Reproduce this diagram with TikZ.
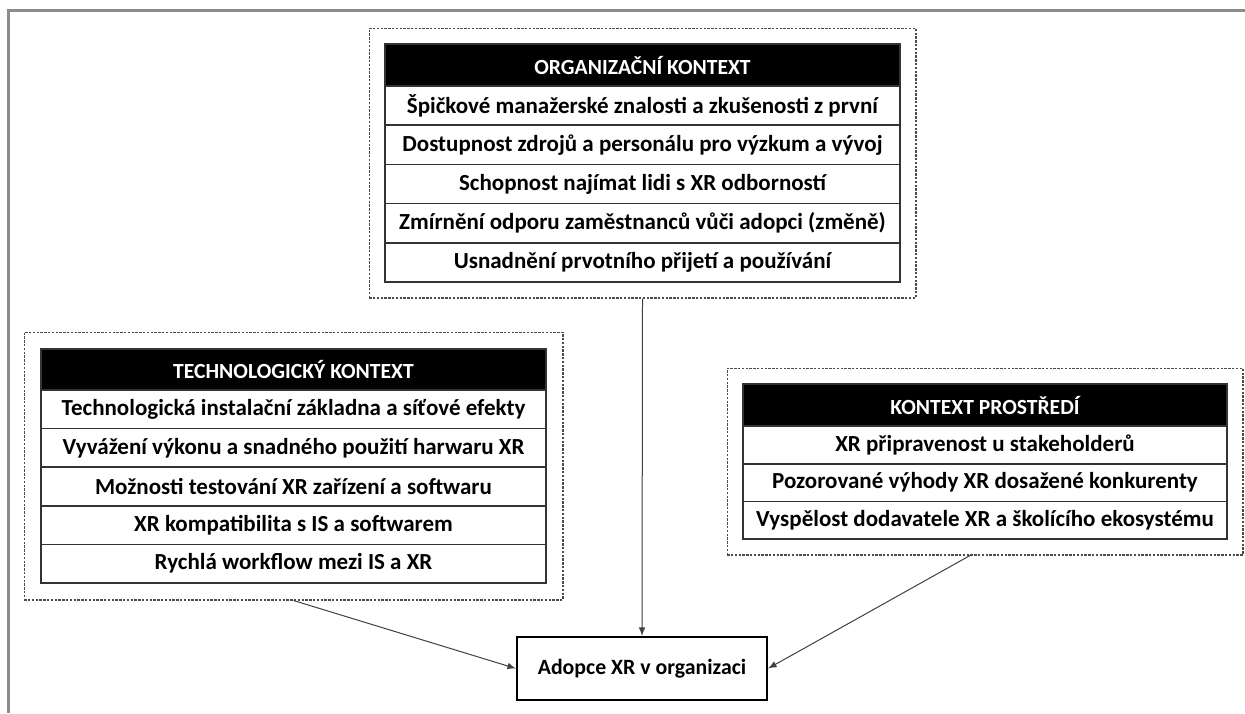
\documentclass[tikz,border=0pt]{standalone}
\usepackage{fontspec}
\setmainfont{Carlito}
\usepackage{tikz}
\usetikzlibrary{arrows,positioning,fit,calc}

\begin{document}
\begin{tikzpicture}[x=0.5pt,y=-0.5pt,
  hdr/.style={rectangle,fill=black,draw=black!80,line width=0.8pt,text=white,font=\fontsize{10.8}{12}\selectfont\bfseries,inner sep=0pt},
  row/.style={rectangle,draw=black!80,line width=0.8pt,font=\fontsize{11.5}{13}\selectfont\bfseries,inner sep=0pt},
  grp/.style={rectangle,draw=black!70,dash pattern=on 1.2pt off 0.7pt,line width=0.7pt,inner sep=7.5pt},
  res/.style={rectangle,draw=black,line width=1pt,font=\fontsize{10.9}{12}\selectfont\bfseries,minimum width=125pt,minimum height=31.5pt},
  link/.style={-latex,black!75,line width=0.5pt}]
\useasboundingbox (0,0) rectangle (1245,713);
\draw[black!45,line width=1.5pt] (8,713) -- (8,10) -- (1245,10);

% organizacni kontext
\node[hdr,minimum width=257.5pt,minimum height=21pt] (o0) at (642.5,65) {ORGANIZAČNÍ KONTEXT};
\node[row,minimum width=257.5pt,minimum height=19.6pt] (o1) at (642.5,105.6) {Špičkové manažerské znalosti a zkušenosti z první};
\node[row,minimum width=257.5pt,minimum height=19.6pt] (o2) at (642.5,144.8) {Dostupnost zdrojů a personálu pro výzkum a vývoj};
\node[row,minimum width=257.5pt,minimum height=19.6pt] (o3) at (642.5,184) {Schopnost najímat lidi s XR odborností};
\node[row,minimum width=257.5pt,minimum height=19.6pt] (o4) at (642.5,223.2) {Zmírnění odporu zaměstnanců vůči adopci (změně)};
\node[row,minimum width=257.5pt,minimum height=19.6pt] (o5) at (642.5,262.4) {Usnadnění prvotního přijetí a používání};
\node[grp,fit=(o0)(o5)] (orgbox) {};

% technologicky kontext
\node[hdr,minimum width=252.5pt,minimum height=20.5pt] (t0) at (293.5,369.5) {TECHNOLOGICKÝ KONTEXT};
\node[row,minimum width=252.5pt,minimum height=19.3pt] (t1) at (293.5,409.3) {Technologická instalační základna a síťové efekty};
\node[row,minimum width=252.5pt,minimum height=19.3pt] (t2) at (293.5,447.9) {Vyvážení výkonu a snadného použití harwaru XR};
\node[row,minimum width=252.5pt,minimum height=19.3pt] (t3) at (293.5,486.5) {Možnosti testování XR zařízení a softwaru};
\node[row,minimum width=252.5pt,minimum height=19.3pt] (t4) at (293.5,525.1) {XR kompatibilita s IS a softwarem};
\node[row,minimum width=252.5pt,minimum height=19.3pt] (t5) at (293.5,563.7) {Rychlá workflow mezi IS a XR};
\node[grp,inner sep=8pt,fit=(t0)(t5)] (techbox) {};

% kontext prostredi
\node[hdr,minimum width=242pt,minimum height=21pt] (e0) at (985,405) {KONTEXT PROSTŘEDÍ};
\node[row,minimum width=242pt,minimum height=18.8pt] (e1) at (985,444.8) {XR připravenost u stakeholderů};
\node[row,minimum width=242pt,minimum height=18.8pt] (e2) at (985,482.5) {Pozorované výhody XR dosažené konkurenty};
\node[row,minimum width=242pt,minimum height=18.8pt] (e3) at (985,520.2) {Vyspělost dodavatele XR a školícího ekosystému};
\node[grp,fit=(e0)(e3)] (envbox) {};

\node[res] (adopce) at (642,668.5) {Adopce XR v organizaci};

\draw[link] (orgbox.south) -- (adopce.north);
\draw[link] (techbox.south) -- (adopce.west);
\draw[link] ([xshift=-7.5pt]envbox.south) -- (adopce.east);
\end{tikzpicture}
\end{document}
